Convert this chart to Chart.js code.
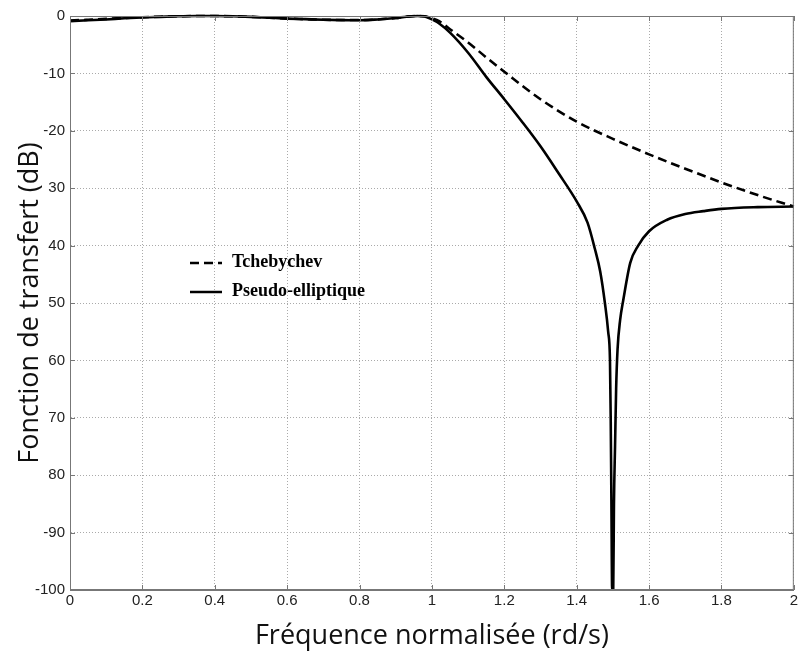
<!DOCTYPE html>
<html>
<head>
<meta charset="utf-8">
<script src="https://cdn.jsdelivr.net/npm/chart.js@4"></script>
<style>
html,body{margin:0;padding:0;background:#fff;}
#wrap{width:800px;height:655px;position:relative;}
</style>
</head>
<body>
<div id="wrap"><canvas id="c" width="800" height="655"></canvas></div>
<script>
// ---- data ----
const seriesNames = ["Tchebychev", "Pseudo-elliptique"];
const xTickLabels = ["0","0.2","0.4","0.6","0.8","1","1.2","1.4","1.6","1.8","2"];
const yTickLabels = ["0","-10","-20","30","40","50","60","70","80","-90","-100"];

const chebX = [0,0.05,0.1,0.15,0.2,0.25,0.3,0.35,0.4,0.45,0.5,0.55,0.6,0.65,0.7,0.75,0.8,0.85,0.9,0.93,0.96,0.98,1.0,1.02,1.05,1.1,1.15,1.2,1.3,1.4,1.5,1.6,1.7,1.8,1.9,2.0];
const chebY = [-0.8,-0.65,-0.5,-0.35,-0.22,-0.12,-0.05,0,0,-0.05,-0.15,-0.3,-0.45,-0.55,-0.65,-0.7,-0.7,-0.6,-0.35,-0.12,0,-0.05,-0.4,-0.9,-2.3,-4.6,-7.2,-9.7,-14.5,-18.4,-21.4,-24.1,-26.6,-29.0,-31.2,-33.2];

const ellX = [0,0.05,0.1,0.15,0.2,0.25,0.3,0.35,0.4,0.45,0.5,0.55,0.6,0.65,0.7,0.75,0.8,0.85,0.9,0.93,0.96,0.98,1.0,1.02,1.05,1.1,1.15,1.2,1.25,1.3,1.35,1.4,1.43,1.45,1.465,1.478,1.487,1.492,1.494,1.496,1.498,1.501,1.503,1.506,1.509,1.513,1.52,1.529,1.548,1.57,1.6,1.65,1.7,1.75,1.8,1.9,2.0];
const ellY = [-0.9,-0.75,-0.6,-0.4,-0.25,-0.15,-0.05,0,0,-0.05,-0.15,-0.3,-0.45,-0.55,-0.65,-0.72,-0.75,-0.6,-0.35,-0.12,0,-0.1,-0.6,-1.3,-2.9,-6.4,-10.6,-14.5,-18.5,-22.7,-27.4,-32.3,-36,-40.5,-44.5,-50,-55,-60,-70,-85,-100,-100,-85,-75,-65,-58,-53,-49.4,-43,-40,-37.5,-35.5,-34.5,-34,-33.6,-33.3,-33.2];

function toPts(xs, ys){ return xs.map((x,i)=>({x:x, y:ys[i]})); }

const legendPlugin = {
  id: 'inlineLegend',
  afterDatasetsDraw(chart){
    const ctx = chart.ctx;
    const items = [
      {ds: chart.data.datasets[0], y: 263},
      {ds: chart.data.datasets[1], y: 292}
    ];
    ctx.save();
    items.forEach(it => {
      ctx.beginPath();
      ctx.setLineDash(it.ds.borderDash || []);
      ctx.lineWidth = 2.5;
      ctx.strokeStyle = it.ds.borderColor;
      ctx.moveTo(190, it.y);
      ctx.lineTo(222, it.y);
      ctx.stroke();
      ctx.setLineDash([]);
      ctx.fillStyle = '#000';
      ctx.font = 'bold 18px "Liberation Serif", "DejaVu Serif", serif';
      ctx.textBaseline = 'middle';
      ctx.textAlign = 'left';
      ctx.fillText(it.ds.label, 232, it.y - 1);
    });
    ctx.restore();
  }
};

const boxPlugin = {
  id: 'box',
  afterDraw(chart){
    const a = chart.chartArea, ctx = chart.ctx;
    const xs = chart.scales.x, ys = chart.scales.y;
    ctx.save();
    ctx.strokeStyle = '#777';
    ctx.lineWidth = 1;
    ctx.strokeRect(a.left+0.5, a.top+0.5, a.right-a.left-1, a.bottom-a.top-1);
    const L = 5;
    ctx.beginPath();
    xs.ticks.forEach(t => {
      const px = Math.round(xs.getPixelForValue(t.value)) + 0.5;
      ctx.moveTo(px, a.top); ctx.lineTo(px, a.top + L);
      ctx.moveTo(px, a.bottom); ctx.lineTo(px, a.bottom - L);
    });
    ys.ticks.forEach(t => {
      const py = Math.round(ys.getPixelForValue(t.value)) + 0.5;
      ctx.moveTo(a.left, py); ctx.lineTo(a.left + L, py);
      ctx.moveTo(a.right, py); ctx.lineTo(a.right - L, py);
    });
    ctx.stroke();
    ctx.restore();
  }
};

new Chart(document.getElementById('c'), {
  type: 'line',
  data: {
    datasets: [
      {
        label: seriesNames[0],
        data: toPts(chebX, chebY),
        borderColor: '#000',
        borderWidth: 2.6,
        borderDash: [9,5],
        pointRadius: 0,
        fill: false,
        cubicInterpolationMode: 'monotone',
        clip: {left: 0, top: 4, right: 4, bottom: 0}
      },
      {
        label: seriesNames[1],
        data: toPts(ellX, ellY),
        borderColor: '#000',
        borderWidth: 2.6,
        pointRadius: 0,
        fill: false,
        cubicInterpolationMode: 'monotone',
        clip: {left: 0, top: 4, right: 4, bottom: 0}
      }
    ]
  },
  options: {
    responsive: false,
    animation: false,
    layout: {padding: {top: 16, right: 3, left: 0, bottom: 0}},
    plugins: {legend: {display: false}, tooltip: {enabled: false}},
    scales: {
      x: {
        type: 'linear',
        min: 0, max: 2,
        ticks: {
          stepSize: 0.2,
          autoSkip: false,
          maxRotation: 0,
          color: '#222',
          font: {family: '"Liberation Sans", Arial, sans-serif', size: 15},
          padding: 2,
          callback: (v) => { const i = Math.round(v/0.2); return xTickLabels[i]; }
        },
        grid: {color: '#aaa', lineWidth: 1, drawTicks: false},
        border: {display: true, color: '#777', dash: [1,2]},
        title: {
          display: true,
          text: 'Fréquence normalisée (rd/s)',
          color: '#111',
          font: {family: '"Open Sans", "Noto Sans", sans-serif', size: 27},
          padding: {top: 8, bottom: 2}
        },
        afterFit: s => { s.height = 65; }
      },
      y: {
        type: 'linear',
        min: -100, max: 0,
        ticks: {
          stepSize: 10,
          autoSkip: false,
          color: '#222',
          font: {family: '"Liberation Sans", Arial, sans-serif', size: 15},
          padding: 5,
          callback: (v) => { const i = Math.round(-v/10); return yTickLabels[i]; }
        },
        grid: {color: '#aaa', lineWidth: 1, drawTicks: false},
        border: {display: true, color: '#777', dash: [1,2]},
        title: {
          display: true,
          text: 'Fonction de transfert (dB)',
          color: '#111',
          font: {family: '"Open Sans", "Noto Sans", sans-serif', size: 27},
          padding: {top: 14, bottom: 0}
        },
        afterFit: s => { s.width = 70; }
      }
    }
  },
  plugins: [legendPlugin, boxPlugin]
});
</script>
</body>
</html>
